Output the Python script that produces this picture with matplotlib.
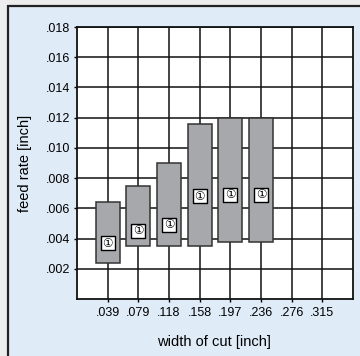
# feed rate vs width of cut chart

import matplotlib
matplotlib.use("Agg")
import matplotlib.pyplot as plt
from matplotlib.patches import Rectangle

# data
x_labels = ['.039', '.079', '.118', '.158', '.197', '.236', '.276', '.315']
y_labels = ['.002', '.004', '.006', '.008', '.010', '.012', '.014', '.016', '.018']
y_ticks = [0.002, 0.004, 0.006, 0.008, 0.010, 0.012, 0.014, 0.016, 0.018]
bar_pos = [1, 2, 3, 4, 5, 6]
feed_low = [0.0024, 0.0035, 0.0035, 0.0035, 0.0038, 0.0038]
feed_high = [0.0064, 0.0075, 0.0090, 0.0116, 0.0120, 0.0120]
feed_mark = [0.0037, 0.0045, 0.0049, 0.0068, 0.0069, 0.0069]
mark_text = '\u2460'

FONT = ['Liberation Sans Narrow', 'Liberation Sans', 'DejaVu Sans']
plt.rcParams['font.family'] = FONT

fig = plt.figure(figsize=(3.6, 3.56), dpi=100, facecolor='#ededed')

# light blue panel with black left/top border
panel = Rectangle((8 / 360, -0.1), 1.2, (356 - 6) / 356 + 0.1,
                  transform=fig.transFigure, facecolor='#dfebf7',
                  edgecolor='#222222', linewidth=1.6, zorder=-10)
fig.patches.append(panel)

ax = fig.add_axes([77 / 360, 57 / 356, 276 / 360, 272 / 356])
ax.set_facecolor('white')

heights = [h - l for h, l in zip(feed_high, feed_low)]
ax.bar(bar_pos, heights, bottom=feed_low, width=0.78, color='#a7a8ab',
       edgecolor='#333333', linewidth=1.1, zorder=2)

# white square boxes with the circled one
ax.scatter(bar_pos, feed_mark, marker='s', s=110, facecolor='white',
           edgecolor='black', linewidths=1.0, zorder=3)
for x, y in zip(bar_pos, feed_mark):
    ax.text(x, y, mark_text, ha='center', va='center', fontsize=8.5,
            family=['DejaVu Sans', 'Noto Sans CJK JP'], zorder=4)

ax.set_xlim(0, 9)
ax.set_ylim(0, 0.018)
ax.set_xticks(range(1, 9))
ax.set_xticklabels(x_labels, fontsize=9)
ax.set_yticks(y_ticks)
ax.set_yticklabels(y_labels, fontsize=9)
ax.tick_params(axis='x', length=2, width=1, color='black', pad=4)
ax.tick_params(axis='y', length=2, width=1, color='black', pad=3)
ax.set_axisbelow(True)
ax.grid(True, color='#111111', linewidth=1.1)
for s in ax.spines.values():
    s.set_linewidth(1.3)
    s.set_color('#111111')

fig.text(214 / 360, 14 / 356, 'width of cut [inch]', ha='center', va='center', fontsize=10.5)
fig.text(25 / 360, (356 - 163) / 356, 'feed rate [inch]', ha='center', va='center',
         rotation=90, fontsize=10.5)

fig.savefig('out.png', dpi=100, facecolor=fig.get_facecolor())
